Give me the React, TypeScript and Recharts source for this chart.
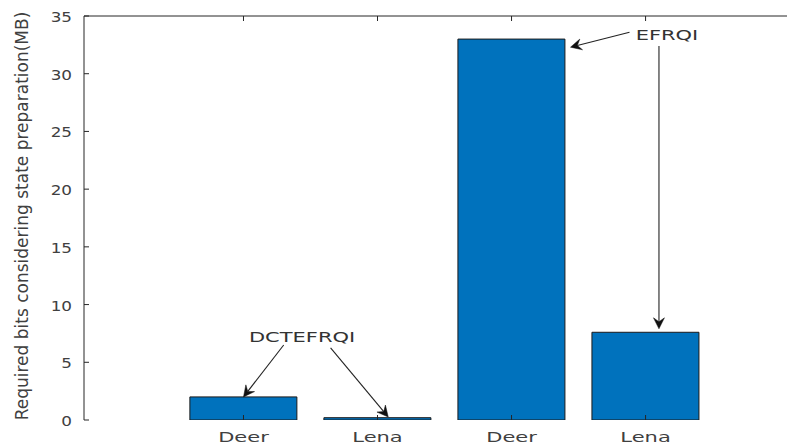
import React from "react";
import { ComposedChart, Bar, XAxis, YAxis, ReferenceLine, ReferenceDot } from "recharts";

// ---- data ----
const groups = ["Deer", "Lena", "Deer", "Lena"];
const positions = [1, 2, 3, 4];
const values = [2.0, 0.2, 33.0, 7.6];
const yTicks = [0, 5, 10, 15, 20, 25, 30, 35];
const yLabel = "Required bits considering state preparation(MB)";

// annotation arrows: [start, tip] in data coordinates (x = bar position, y = MB)
const dctArrows = [
  [[1.3, 6.5], [1.0, 2.0]],
  [[1.65, 6.25], [2.08, 0.26]],
];
const efrqiArrows = [
  [[3.88, 33.6], [3.44, 32.3]],
  [[4.1, 32.4], [4.1, 7.9]],
];
const annotationTexts = ["DCTEFRQI", "EFRQI"];
const annotationX = [1.437, 4.16];
const annotationY = [7.19, 33.35];

// ---- layout ----
const W = 787;
const H = 438;
const Y_AXIS_W = 76;
const X_AXIS_H = 26;
const TOP_H = 8;
const PLOT_BOTTOM = H - X_AXIS_H;
const XMIN = -0.19;
const XMAX = 5.115;
const PLOT_W = W - Y_AXIS_W;
const UNIT = PLOT_W / (XMAX - XMIN);
const PAD_L = (0.5 - XMIN) * UNIT;
const PAD_R = (XMAX - 4.5) * UNIT;

const AXIS_COLOR = "#262626";
const TEXT_COLOR = "#404040";
const FONT = "'DejaVu Sans', sans-serif";

const data = positions.map((p, i) => ({ pos: p, value: values[i], name: groups[i] }));

const BottomTick = (props: any) => {
  const { x, index } = props;
  const y = PLOT_BOTTOM;
  return (
    <g>
      <line x1={x} y1={y} x2={x} y2={y - 5} stroke={AXIS_COLOR} strokeWidth={1} />
      <text
        transform={`translate(${x},${y + 22}) scale(1.5,1)`}
        textAnchor="middle"
        fontFamily={FONT}
        fontSize={14}
        fill={TEXT_COLOR}
      >
        {groups[index]}
      </text>
    </g>
  );
};

const TopTick = (props: any) => {
  const { x } = props;
  const y = TOP_H;
  return <line x1={x} y1={y} x2={x} y2={y + 5} stroke={AXIS_COLOR} strokeWidth={1} />;
};

const LeftTick = (props: any) => {
  const { payload, y } = props;
  const x = Y_AXIS_W;
  return (
    <g>
      <line x1={x} y1={y} x2={x + 5} y2={y} stroke={AXIS_COLOR} strokeWidth={1} />
      <text
        transform={`translate(${x - 12},${y + 1.5}) scale(1.2,1)`}
        textAnchor="end"
        dominantBaseline="central"
        fontFamily={FONT}
        fontSize={14}
        fill={TEXT_COLOR}
      >
        {payload.value}
      </text>
    </g>
  );
};

const YLabel = (props: any) => {
  const vb = props.viewBox || { x: 0, y: 0, width: 0, height: 0 };
  const cx = vb.x + 20;
  const cy = vb.y + vb.height / 2 - 2;
  return (
    <text
      x={cx}
      y={cy}
      transform={`rotate(-90, ${cx}, ${cy})`}
      textAnchor="middle"
      fontFamily={FONT}
      fontSize={17}
      fill={TEXT_COLOR}
    >
      {yLabel}
    </text>
  );
};

const ArrowShape = (props: any) => {
  const { x1, y1, x2, y2 } = props;
  const dx = x2 - x1;
  const dy = y2 - y1;
  const len = Math.sqrt(dx * dx + dy * dy) || 1;
  const ux = dx / len;
  const uy = dy / len;
  const nx = -uy;
  const ny = ux;
  const L = 11;
  const Wd = 5.5;
  const notch = 4;
  const bx = x2 - ux * L;
  const by = y2 - uy * L;
  const mx = x2 - ux * (L - notch);
  const my = y2 - uy * (L - notch);
  const pts = `${x2},${y2} ${bx + nx * Wd},${by + ny * Wd} ${mx},${my} ${bx - nx * Wd},${by - ny * Wd}`;
  return (
    <g>
      <line x1={x1} y1={y1} x2={mx} y2={my} stroke="#222" strokeWidth={1.1} />
      <polygon points={pts} fill="#111" stroke="#111" strokeWidth={0.5} />
    </g>
  );
};

const makeTextShape = (label: string) => (props: any) => {
  const { cx, cy } = props;
  return (
    <text
      transform={`translate(${cx},${cy}) scale(1.5,1)`}
      textAnchor="middle"
      dominantBaseline="central"
      fontFamily={FONT}
      fontSize={14}
      fill="#333"
    >
      {label}
    </text>
  );
};

const allArrows = [...dctArrows, ...efrqiArrows];

export default function App() {
  return (
    <ComposedChart width={W} height={H} data={data} margin={{ top: 0, right: 0, bottom: 0, left: 0 }}>
      <XAxis
        xAxisId="cat"
        dataKey="pos"
        type="category"
        interval={0}
        padding={{ left: PAD_L, right: PAD_R }}
        height={X_AXIS_H}
        tickSize={0}
        tickMargin={0}
        tickLine={false}
        tick={<BottomTick />}
        axisLine={{ stroke: AXIS_COLOR, strokeWidth: 1 }}
      />
      <XAxis
        xAxisId="top"
        orientation="top"
        dataKey="pos"
        type="category"
        interval={0}
        padding={{ left: PAD_L, right: PAD_R }}
        height={TOP_H}
        tickSize={0}
        tickMargin={0}
        tickLine={false}
        tick={<TopTick />}
        axisLine={{ stroke: AXIS_COLOR, strokeWidth: 1 }}
      />
      <XAxis
        xAxisId="ann"
        dataKey="pos"
        type="number"
        domain={[XMIN, XMAX]}
        allowDataOverflow
        hide
      />
      <YAxis
        width={Y_AXIS_W}
        domain={[0, 35]}
        ticks={yTicks}
        interval={0}
        allowDataOverflow
        tickSize={0}
        tickMargin={0}
        tickLine={false}
        tick={<LeftTick />}
        axisLine={{ stroke: AXIS_COLOR, strokeWidth: 1 }}
        label={{ content: <YLabel /> }}
      />
      <Bar
        xAxisId="cat"
        dataKey="value"
        fill="#0072BD"
        stroke="#1a1a1a"
        strokeWidth={1}
        barCategoryGap="10%"
        isAnimationActive={false}
      />
      {allArrows.map((a, i) => (
        <ReferenceLine
          key={`arr-${i}`}
          xAxisId="ann"
          segment={[
            { x: a[0][0], y: a[0][1] },
            { x: a[1][0], y: a[1][1] },
          ]}
          ifOverflow="visible"
          shape={ArrowShape}
        />
      ))}
      {annotationTexts.map((t, i) => (
        <ReferenceDot
          key={`lbl-${i}`}
          xAxisId="ann"
          x={annotationX[i]}
          y={annotationY[i]}
          r={0}
          ifOverflow="visible"
          shape={makeTextShape(t)}
        />
      ))}
    </ComposedChart>
  );
}
